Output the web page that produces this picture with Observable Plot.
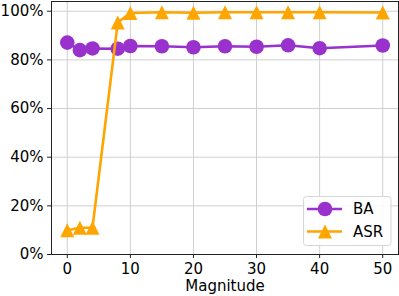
<!DOCTYPE html>
<html>
<head>
<meta charset="utf-8">
<script src="https://cdn.jsdelivr.net/npm/d3@7"></script>
<script src="https://cdn.jsdelivr.net/npm/@observablehq/plot@0.6"></script>
<style>
  html, body { margin: 0; padding: 0; background: #fff; }
  #chart svg { display: block; }
</style>
</head>
<body>
<div id="chart"></div>
<script>
const magnitudes = [0, 2, 4, 8, 10, 15, 20, 25, 30, 35, 40, 50];
const baValues  = [87.1, 84.0, 84.7, 84.6, 85.7, 85.6, 85.2, 85.6, 85.4, 86.0, 84.8, 85.9];
const asrValues = [10.0, 11.0, 11.0, 95.4, 99.3, 99.6, 99.4, 99.6, 99.6, 99.6, 99.6, 99.5];
const seriesNames = ["BA", "ASR"];
const seriesColors = ["#9932CC", "#FFA500"];
const xTicks = [0, 10, 20, 30, 40, 50];
const yTicks = [0, 20, 40, 60, 80, 100];
const xLabel = "Magnitude";

const ba = magnitudes.map((m, i) => ({x: m, y: baValues[i]}));
const asr = magnitudes.map((m, i) => ({x: m, y: asrValues[i]}));

const tri = {
  draw(context, size) {
    const a = Math.sqrt(size / Math.PI);
    context.moveTo(0, -a);
    context.lineTo(a, a);
    context.lineTo(-a, a);
    context.closePath();
  }
};

const FS = 15;
const chart = Plot.plot({
  width: 399,
  height: 296,
  marginLeft: 51,
  marginRight: 1,
  marginTop: 1,
  marginBottom: 42,
  style: {fontFamily: "DejaVu Sans", fontSize: FS + "px", color: "#000", background: "#fff"},
  x: {domain: [-2.5, 52.5]},
  y: {domain: [0, 104]},
  marks: [
    Plot.gridX(xTicks, {stroke: "#cfcfcf", strokeOpacity: 1, strokeWidth: 1}),
    Plot.gridY(yTicks, {stroke: "#cfcfcf", strokeOpacity: 1, strokeWidth: 1}),
    Plot.axisX(xTicks, {tickSize: 4, tickPadding: 4.5, fontSize: FS, label: null, stroke: "#222"}),
    Plot.axisY(yTicks, {tickSize: 4, tickPadding: 4, fontSize: FS, label: null, tickFormat: d => d + "%", stroke: "#222"}),
    Plot.text([xLabel], {frameAnchor: "bottom", lineAnchor: "middle", dy: 32, fontSize: FS, fill: "#000"}),
    Plot.line(ba, {x: "x", y: "y", stroke: seriesColors[0], strokeWidth: 2.6}),
    Plot.dot(ba, {x: "x", y: "y", r: 7.3, fill: seriesColors[0], stroke: "none"}),
    Plot.line(asr, {x: "x", y: "y", stroke: seriesColors[1], strokeWidth: 2.6}),
    Plot.dot(asr, {x: "x", y: "y", r: 7, symbol: tri, fill: seriesColors[1], stroke: "none"}),
    Plot.frame({stroke: "#222", strokeWidth: 1})
  ]
});
document.getElementById("chart").appendChild(chart);

// Legend inside the plot area (lower right)
const svg = d3.select(chart);
const lg = svg.append("g").attr("font-family", "DejaVu Sans").attr("font-size", FS).attr("text-anchor", "start");
lg.append("rect").attr("x", 303.5).attr("y", 196.5).attr("width", 87.5).attr("height", 49)
  .attr("rx", 3).attr("fill", "#fff").attr("fill-opacity", 0.85).attr("stroke", "#d6d6d6");
const rows = [209, 231.5];
seriesNames.forEach((name, i) => {
  const y = rows[i];
  lg.append("line").attr("x1", 307).attr("x2", 342).attr("y1", y).attr("y2", y)
    .attr("stroke", seriesColors[i]).attr("stroke-width", 2.6);
  if (i === 0) {
    lg.append("circle").attr("cx", 325).attr("cy", y).attr("r", 7.3).attr("fill", seriesColors[i]);
  } else {
    lg.append("path").attr("d", `M${325},${y-7}L${332},${y+7}L${318},${y+7}Z`).attr("fill", seriesColors[i]);
  }
  lg.append("text").attr("x", 353).attr("y", y).attr("dy", "0.35em").attr("fill", "#000").attr("text-anchor", "start").text(name);
});
</script>
</body>
</html>
